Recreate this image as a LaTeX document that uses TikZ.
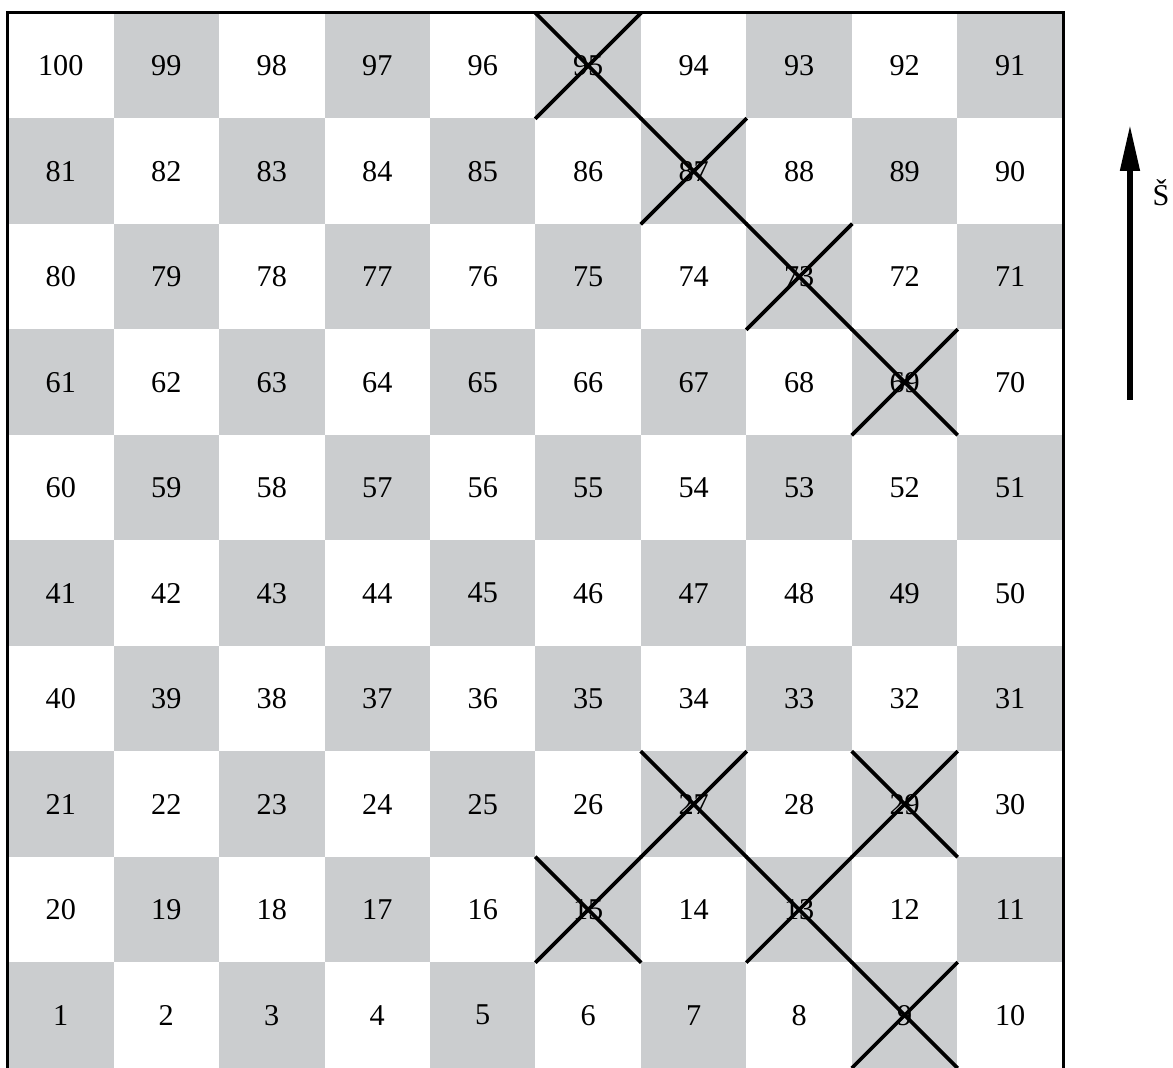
\documentclass[tikz,border=0pt]{standalone}
\usepackage{fontspec}
\setmainfont{Liberation Serif}
\usetikzlibrary{arrows.meta,positioning}
\definecolor{boardgray}{RGB}{203,205,207}

\begin{document}
\begin{tikzpicture}[x=2.6375cm, y=2.6375cm,
	cell/.style={minimum size=2.6375cm, inner sep=0pt, font=\fontsize{21.5}{25}\selectfont},
	dark/.style={cell, fill=boardgray},
	light/.style={cell},
	cross/.style={line width=2.6pt},
	frame/.style={line width=2.4pt}]
	
	\useasboundingbox (-0.076,0) rectangle (11.043,10.123);
	
	% squares, numbered back and forth row by row
	\foreach \r in {0,...,9}{
		\foreach \c in {0,...,9}{
			\pgfmathtruncatemacro{\n}{mod(\r,2)==0 ? 10*\r+\c+1 : 10*\r+10-\c}
			\pgfmathtruncatemacro{\shade}{mod(\r+\c,2)}
			\ifnum\shade=0 \def\kind{dark}\else\def\kind{light}\fi
			\node[\kind] (sq\n) at (\c+0.5,\r+0.5) {\n};
		}
	}
	
	\draw[frame] (sq1.south west) -- (sq100.north west) -- (sq91.north east) -- (sq10.south east);
	
	% crossed out squares
	\foreach \k in {95,87,73,69,27,29,15,13,9}{
		\draw[cross] (sq\k.north west) -- (sq\k.south east)
		             (sq\k.south west) -- (sq\k.north east);
	}
	
	\coordinate (tail) at (10.635,6.332);
	\coordinate (head) at (10.635,8.938);
	\draw[line width=3.8pt, -{Triangle[length=1.15cm, width=0.47cm]}] (tail) -- (head);
	\node[font=\fontsize{21.5}{25}\selectfont] (sever) at (10.93,8.3) {Š};
	
\end{tikzpicture}
\end{document}
